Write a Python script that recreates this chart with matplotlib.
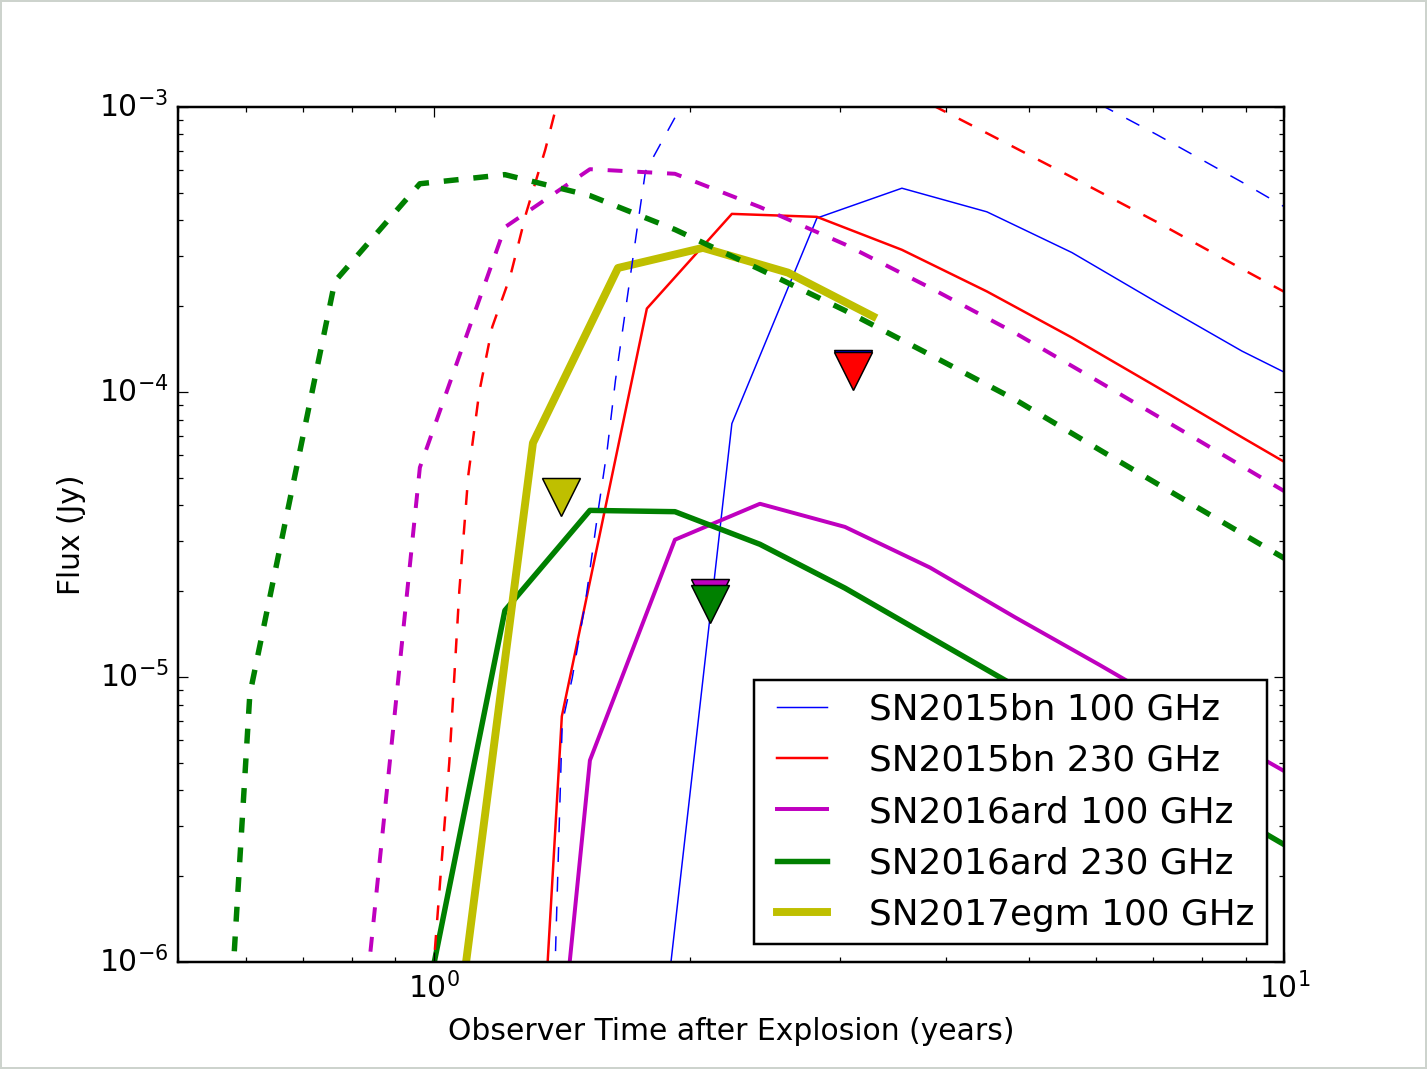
import matplotlib
matplotlib.use("Agg")
import matplotlib.pyplot as plt

plt.style.use('classic')

# SN2015bn model light curves (time in years, flux in Jy)
t_15bn = [1.1220, 1.4125, 1.7783, 2.2387, 2.8184, 3.5481, 4.4668, 5.6234, 7.0795, 8.9125, 11.220]
f_15bn_230 = [5e-11, 7.28e-6, 1.96e-4, 4.21e-4, 4.11e-4, 3.15e-4, 2.25e-4, 1.55e-4, 1.04e-4, 6.93e-5, 4.65e-5]
t_15bn_100 = [1.7783, 2.2387, 2.8184, 3.5481, 4.4668, 5.6234, 7.0795, 8.9125, 11.220]
f_15bn_100 = [1.79e-7, 7.74e-5, 4.07e-4, 5.18e-4, 4.28e-4, 3.08e-4, 2.06e-4, 1.39e-4, 9.87e-5]

# SN2015bn alternative models (dashed)
t_15bn_100_alt = [1.3723, 1.414, 1.4529, 1.5060, 1.5616, 1.5973, 1.6334, 1.6635, 1.7401, 1.7715,
                  1.9126, 2.2387, 2.8184, 3.5481, 4.4668, 5.6234, 7.0795, 8.9125, 11.220]
f_15bn_100_alt = [3.3e-7, 6.87e-6, 9.93e-6, 1.84e-5, 3.99e-5, 6.28e-5, 1.10e-4, 1.61e-4, 4.12e-4, 5.93e-4,
                  9.00e-4, 2.12e-3, 2.79e-3, 2.57e-3, 1.86e-3, 1.15e-3, 7.98e-4, 5.44e-4, 3.65e-4]
t_15bn_230_alt = [0.9892, 1.0414, 1.0700, 1.0963, 1.1295, 1.1699, 1.2282, 1.2828, 1.3505, 1.3836,
                  1.5338, 2.2387, 2.8184, 3.5481, 4.4668, 5.6234, 7.0795, 8.9125, 11.220]
f_15bn_230_alt = [6.84e-7, 5.02e-6, 2.00e-5, 5.09e-5, 1.00e-4, 1.69e-4, 2.54e-4, 4.25e-4, 7.07e-4, 9.37e-4,
                  2.74e-3, 3.85e-3, 2.79e-3, 1.15e-3, 8.08e-4, 5.66e-4, 3.94e-4, 2.70e-4, 1.86e-4]

# SN2016ard
t_16ard = [0.4819, 0.6067, 0.7638, 0.9616, 1.2106, 1.5241, 1.9187, 2.4155, 3.0409, 3.8282,
           4.8195, 6.0674, 7.6384, 9.6161, 12.106]
f_16ard_100 = [None, None, None, None, 5.4e-9, 5.10e-6, 3.03e-5, 4.05e-5, 3.36e-5, 2.42e-5,
               1.62e-5, 1.10e-5, 7.39e-6, 4.99e-6, 3.38e-6]
f_16ard_230 = [None, None, None, 5.6e-7, 1.71e-5, 3.84e-5, 3.80e-5, 2.92e-5, 2.05e-5, 1.38e-5,
               9.3e-6, 6.2e-6, 4.14e-6, 2.76e-6, 1.85e-6]
f_16ard_100_alt = [None, None, 6.5e-8, 5.43e-5, 3.78e-4, 6.04e-4, 5.82e-4, 4.45e-4, 3.29e-4, 2.32e-4,
                   1.61e-4, 1.08e-4, 7.21e-5, 4.80e-5, 3.20e-5]
f_16ard_230_alt = [1e-10, 8.69e-6, 2.44e-4, 5.37e-4, 5.78e-4, 4.88e-4, 3.71e-4, 2.69e-4, 1.93e-4, 1.35e-4,
                   9.40e-5, 6.25e-5, 4.17e-5, 2.79e-5, 1.87e-5]

# SN2017egm
t_17egm = [1.0375, 1.3062, 1.6444, 2.0701, 2.6062, 3.2810]
f_17egm_100 = [3.2e-7, 6.62e-5, 2.72e-4, 3.20e-4, 2.62e-4, 1.84e-4]

# upper limits
lim_t_15bn = 3.11
lim_15bn_100 = 1.20e-4
lim_15bn_230 = 1.18e-4
lim_t_16ard = 2.112
lim_16ard_100 = 1.90e-5
lim_16ard_230 = 1.80e-5
lim_t_17egm = 1.409
lim_17egm_100 = 4.28e-5


def clean(t, f):
    pts = [(a, b) for a, b in zip(t, f) if b is not None]
    return [p[0] for p in pts], [p[1] for p in pts]


fig = plt.figure(figsize=(8, 5.993), dpi=178.4, facecolor='white')
fig.patch.set_edgecolor('#cdd3cd')
fig.patch.set_linewidth(1.0)
ax = fig.add_subplot(111)

ax.plot(t_15bn_100, f_15bn_100, 'b-', lw=0.6, label='SN2015bn 100 GHz')
ax.plot(t_15bn, f_15bn_230, 'r-', lw=1.0, label='SN2015bn 230 GHz')
ax.plot(*clean(t_16ard, f_16ard_100), 'm-', lw=1.6, label='SN2016ard 100 GHz')
ax.plot(*clean(t_16ard, f_16ard_230), 'g-', lw=2.2, label='SN2016ard 230 GHz')
ax.plot(t_17egm, f_17egm_100, 'y-', lw=3.2, label='SN2017egm 100 GHz')

ax.plot(t_15bn_100_alt, f_15bn_100_alt, 'b--', lw=0.6)
ax.plot(t_15bn_230_alt, f_15bn_230_alt, 'r--', lw=1.0)
ax.plot(*clean(t_16ard, f_16ard_100_alt), 'm--', lw=1.6)
ax.plot(*clean(t_16ard, f_16ard_230_alt), 'g--', lw=2.2)

ax.plot([lim_t_15bn], [lim_15bn_100], 'bv', ms=15, mec='k', mew=0.6)
ax.plot([lim_t_15bn], [lim_15bn_230], 'rv', ms=15, mec='k', mew=0.6)
ax.plot([lim_t_16ard], [lim_16ard_100], 'mv', ms=15, mec='k', mew=0.6)
ax.plot([lim_t_16ard], [lim_16ard_230], 'gv', ms=15, mec='k', mew=0.6)
ax.plot([lim_t_17egm], [lim_17egm_100], 'yv', ms=15, mec='k', mew=0.6)

ax.set_xscale('log')
ax.set_yscale('log')
ax.set_xlim(0.5, 10)
ax.set_ylim(1e-6, 1e-3)
ax.set_xlabel('Observer Time after Explosion (years)')
ax.set_ylabel('Flux (Jy)')

leg = ax.legend(loc='lower right', fontsize=14.5, handlelength=2.0, handletextpad=0.85,
                labelspacing=0.48, borderpad=0.35, numpoints=2)

fig.savefig('out.png', dpi=178.4, facecolor='white', edgecolor=fig.get_edgecolor())
